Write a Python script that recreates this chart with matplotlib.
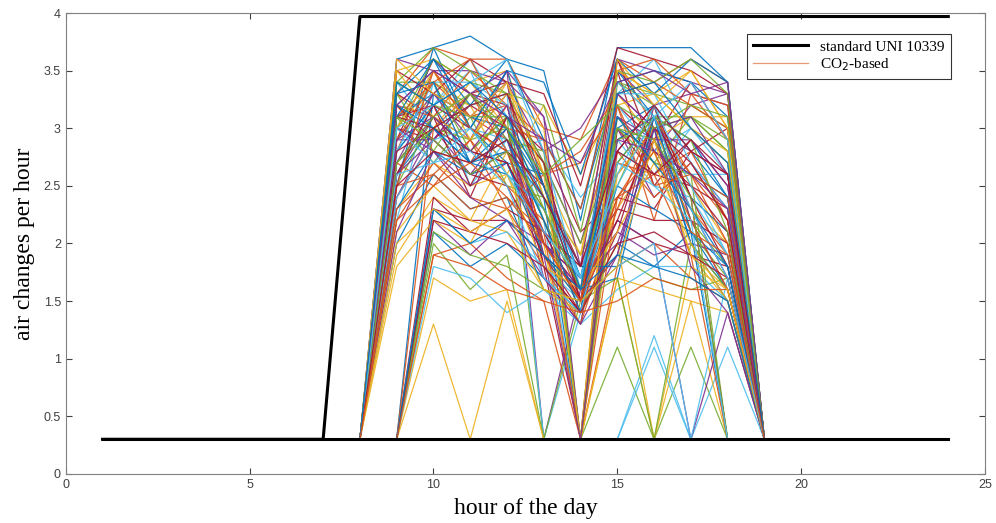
import matplotlib.pyplot as plt

# standard ventilation profile (UNI 10339), hours 1..24
std_hours = list(range(1, 25))
std_values = [0.3] * 7 + [3.97] * 17
base_values = [0.3] * 24

# CO2-based profiles, values for hours 8..19
co2_hours = list(range(8, 20))
co2_rows = [
    [0.3, 3.6, 3.7, 3.8, 3.6, 3.5, 2.2, 3.7, 3.7, 3.7, 3.4, 0.3],
    [0.3, 3.3, 3.7, 3.6, 3.6, 3.0, 2.9, 3.6, 3.4, 3.6, 3.4, 0.3],
    [0.3, 3.5, 3.6, 3.4, 3.5, 2.6, 1.9, 3.5, 3.3, 3.5, 3.0, 0.3],
    [0.3, 3.2, 3.5, 3.5, 3.4, 2.8, 3.0, 3.5, 3.2, 3.3, 3.2, 0.3],
    [0.3, 3.0, 3.4, 3.2, 3.3, 2.4, 1.6, 3.4, 3.1, 3.1, 2.8, 0.3],
    [0.3, 3.4, 3.2, 3.6, 3.1, 2.2, 1.4, 3.3, 3.6, 3.0, 2.6, 0.3],
    [0.3, 2.9, 3.6, 3.3, 3.2, 2.0, 1.7, 3.2, 2.9, 3.4, 2.9, 0.3],
    [0.3, 3.1, 3.3, 3.0, 3.5, 2.5, 1.5, 3.0, 3.2, 2.8, 2.4, 0.3],
    [0.3, 2.8, 3.5, 3.1, 2.9, 2.1, 1.8, 3.6, 3.0, 2.6, 2.2, 0.3],
    [0.3, 3.3, 3.0, 3.4, 3.0, 1.9, 1.3, 2.9, 3.1, 2.5, 2.0, 0.3],
    [0.3, 2.7, 3.1, 2.9, 3.3, 2.7, 2.0, 3.1, 2.8, 3.2, 3.3, 0.3],
    [0.3, 3.4, 3.4, 2.8, 3.1, 2.3, 1.6, 3.4, 3.2, 2.2, 1.8, 0.3],
    [0.3, 2.6, 3.2, 3.5, 2.8, 2.9, 2.4, 2.8, 2.6, 3.0, 2.7, 0.3],
    [0.3, 3.0, 2.9, 3.3, 3.4, 1.8, 1.4, 3.5, 2.5, 2.9, 2.5, 0.3],
    [0.3, 2.5, 3.7, 3.0, 2.7, 2.6, 1.7, 2.7, 3.1, 2.4, 2.1, 0.3],
    [0.3, 3.2, 2.8, 2.7, 3.2, 2.0, 1.5, 2.6, 3.0, 2.3, 1.9, 0.3],
    [0.3, 2.9, 3.3, 3.2, 2.6, 3.2, 2.6, 3.3, 2.9, 3.1, 3.1, 0.3],
    [0.3, 2.4, 3.0, 2.6, 3.0, 1.7, 1.3, 3.0, 2.4, 2.7, 2.3, 0.3],
    [0.3, 3.1, 2.7, 3.1, 2.5, 2.4, 1.9, 2.5, 3.2, 2.1, 1.7, 0.3],
    [0.3, 2.2, 3.4, 2.5, 2.9, 2.2, 1.6, 3.1, 2.7, 2.6, 2.6, 0.3],
    [0.3, 3.3, 3.1, 2.4, 3.1, 2.8, 2.1, 2.4, 2.3, 2.8, 3.0, 0.3],
    [0.3, 2.0, 2.6, 2.3, 2.4, 1.6, 1.4, 2.9, 3.1, 2.0, 1.6, 0.3],
    [0.3, 2.7, 2.5, 2.9, 2.3, 2.6, 2.7, 3.2, 2.2, 3.3, 2.9, 0.3],
    [0.3, 1.9, 2.4, 2.2, 2.8, 1.9, 1.5, 2.3, 2.8, 1.9, 1.5, 0.3],
    [0.3, 3.6, 3.5, 3.3, 3.5, 3.1, 1.8, 3.6, 3.5, 3.4, 3.3, 0.3],
    [0.3, 3.0, 3.6, 3.4, 3.3, 2.7, 0.3, 3.4, 3.3, 3.2, 3.0, 0.3],
    [0.3, 2.8, 3.2, 3.0, 2.9, 2.2, 0.3, 3.2, 2.8, 3.0, 2.7, 0.3],
    [0.3, 3.2, 2.9, 3.2, 3.0, 1.8, 0.3, 3.0, 2.6, 2.5, 2.3, 0.3],
    [0.3, 2.6, 3.0, 2.7, 2.8, 2.4, 0.3, 3.5, 3.1, 2.9, 2.4, 0.3],
    [0.3, 3.1, 3.4, 3.1, 3.2, 2.9, 0.3, 2.8, 2.4, 2.7, 2.2, 0.3],
    [0.3, 2.3, 2.7, 2.5, 2.6, 2.0, 0.3, 2.6, 3.0, 2.3, 2.0, 0.3],
    [0.3, 2.9, 3.3, 2.9, 3.5, 0.3, 1.6, 3.3, 3.0, 2.8, 2.6, 0.3],
    [0.3, 2.5, 3.1, 2.8, 3.1, 0.3, 0.3, 3.1, 2.7, 3.1, 2.8, 0.3],
    [0.3, 3.4, 3.0, 3.2, 3.3, 0.3, 1.4, 2.9, 2.5, 2.4, 1.9, 0.3],
    [0.3, 0.3, 2.3, 2.2, 2.2, 1.9, 1.6, 2.2, 2.0, 1.9, 1.8, 0.3],
    [0.3, 0.3, 2.1, 1.8, 2.0, 1.7, 1.4, 2.0, 1.8, 2.1, 1.6, 0.3],
    [0.3, 0.3, 1.9, 2.0, 1.7, 1.5, 0.3, 1.8, 2.0, 1.7, 1.5, 0.3],
    [0.3, 0.3, 1.7, 1.5, 1.6, 0.3, 0.3, 1.7, 1.6, 1.5, 1.4, 0.3],
    [0.3, 0.3, 2.2, 1.9, 2.2, 2.0, 1.7, 2.1, 1.9, 2.0, 1.9, 0.3],
    [0.3, 0.3, 2.0, 1.6, 1.9, 0.3, 1.5, 1.9, 1.7, 1.6, 1.7, 0.3],
    [0.3, 0.3, 1.8, 1.7, 1.4, 1.6, 1.3, 1.6, 1.8, 1.8, 1.5, 0.3],
    [0.3, 0.3, 2.4, 2.1, 2.3, 2.1, 1.8, 2.3, 2.2, 2.2, 2.0, 0.3],
    [0.3, 0.3, 3.3, 3.1, 3.0, 2.5, 1.7, 3.0, 2.8, 2.6, 2.4, 0.3],
    [0.3, 0.3, 3.0, 3.3, 2.8, 2.3, 1.5, 2.7, 2.6, 2.8, 2.2, 0.3],
    [0.3, 0.3, 1.3, 0.3, 1.5, 0.3, 0.3, 0.3, 0.3, 0.3, 0.3, 0.3],
    [0.3, 2.6, 3.1, 2.8, 2.7, 2.1, 1.5, 1.9, 3.2, 2.2, 1.6, 0.3],
    [0.3, 0.3, 0.3, 0.3, 0.3, 0.3, 0.3, 1.1, 0.3, 1.1, 0.3, 0.3],
    [0.3, 0.3, 0.3, 0.3, 0.3, 0.3, 0.3, 0.3, 1.2, 0.3, 1.1, 0.3],
    [0.3, 2.4, 2.9, 2.6, 2.5, 1.9, 1.4, 2.1, 3.1, 2.4, 1.8, 0.3],
    [0.3, 2.8, 3.2, 2.7, 2.6, 2.3, 1.6, 1.7, 3.0, 2.0, 1.5, 0.3],
    [0.3, 2.2, 2.7, 2.4, 2.3, 1.8, 1.3, 2.3, 3.1, 2.6, 2.0, 0.3],
    [0.3, 0.3, 0.3, 0.3, 0.3, 0.3, 0.3, 1.7, 0.3, 1.5, 0.3, 0.3],
    [0.3, 3.0, 2.8, 2.5, 2.7, 2.0, 1.7, 2.0, 2.9, 2.3, 1.7, 0.3],
    [0.3, 2.7, 3.0, 2.9, 3.0, 2.2, 1.6, 3.0, 2.7, 2.6, 0.3, 0.3],
    [0.3, 0.3, 0.3, 0.3, 0.3, 0.3, 0.3, 0.3, 1.1, 0.3, 0.3, 0.3],
    [0.3, 3.1, 3.2, 3.0, 2.8, 2.5, 1.8, 2.8, 3.2, 2.4, 0.3, 0.3],
    [0.3, 2.3, 2.8, 2.6, 2.7, 1.9, 1.5, 2.5, 2.3, 2.1, 0.3, 0.3],
    [0.3, 2.5, 2.6, 2.3, 2.4, 2.1, 0.3, 2.4, 2.6, 1.9, 0.3, 0.3],
    [0.3, 2.1, 2.5, 2.2, 2.1, 1.6, 1.4, 2.0, 0.3, 1.8, 1.6, 0.3],
    [0.3, 2.6, 2.9, 2.6, 2.8, 2.0, 1.6, 2.2, 2.0, 0.3, 1.4, 0.3],
    [0.3, 0.3, 2.1, 1.9, 1.8, 1.6, 1.5, 1.7, 0.3, 2.0, 1.6, 0.3],
    [0.3, 0.3, 2.3, 2.0, 2.1, 1.8, 1.5, 1.8, 2.0, 0.3, 1.7, 0.3],
    [0.3, 3.5, 3.3, 3.6, 3.4, 3.3, 2.5, 3.7, 3.6, 3.5, 3.3, 0.3],
    [0.3, 3.3, 3.6, 3.2, 3.6, 2.9, 2.3, 3.4, 3.5, 3.4, 3.1, 0.3],
    [0.3, 3.2, 3.1, 3.5, 3.2, 2.6, 2.8, 3.3, 3.4, 3.2, 3.0, 0.3],
    [0.3, 3.0, 3.5, 2.9, 3.4, 2.4, 1.9, 3.2, 3.3, 3.0, 2.8, 0.3],
    [0.3, 2.9, 2.9, 3.3, 2.9, 2.0, 1.6, 3.1, 2.9, 2.9, 2.5, 0.3],
    [0.3, 3.4, 3.2, 3.1, 3.1, 2.7, 2.0, 2.9, 3.0, 3.1, 2.9, 0.3],
    [0.3, 2.8, 3.4, 3.4, 3.2, 2.5, 1.7, 3.3, 3.3, 2.7, 2.3, 0.3],
    [0.3, 3.1, 3.0, 2.8, 2.7, 2.1, 1.5, 3.6, 2.8, 2.5, 2.1, 0.3],
    [0.3, 3.1, 3.6, 3.0, 3.5, 3.4, 2.6, 3.6, 3.3, 3.6, 3.4, 0.3],
    [0.3, 2.9, 3.4, 3.6, 3.0, 2.9, 2.3, 3.5, 3.6, 3.3, 3.2, 0.3],
    [0.3, 3.5, 3.1, 2.9, 3.3, 3.0, 0.3, 3.6, 3.2, 3.5, 3.0, 0.3],
    [0.3, 2.7, 3.3, 3.1, 3.4, 3.1, 0.3, 3.3, 3.0, 3.1, 2.6, 0.3],
    [0.3, 3.3, 2.8, 3.3, 2.9, 2.8, 0.3, 2.7, 3.1, 2.9, 2.1, 0.3],
    [0.3, 2.4, 2.9, 3.0, 2.6, 2.3, 1.7, 2.6, 3.2, 2.5, 1.9, 0.3],
    [0.3, 2.6, 3.2, 2.5, 3.1, 2.7, 1.5, 2.2, 3.0, 2.7, 2.2, 0.3],
    [0.3, 3.2, 3.0, 2.7, 3.0, 2.4, 1.8, 1.8, 3.1, 2.1, 1.8, 0.3],
    [0.3, 2.3, 2.6, 2.9, 2.5, 2.2, 1.4, 2.4, 2.9, 2.2, 1.6, 0.3],
    [0.3, 1.8, 2.2, 2.0, 2.6, 1.8, 1.6, 2.1, 2.7, 2.0, 1.5, 0.3],
    [0.3, 2.1, 2.8, 2.4, 2.2, 1.7, 1.3, 1.9, 3.0, 1.8, 1.4, 0.3],
    [0.3, 3.4, 3.7, 3.5, 3.3, 3.2, 2.1, 3.5, 3.4, 3.6, 3.3, 0.3],
    [0.3, 3.0, 3.2, 3.4, 3.6, 2.8, 1.6, 3.4, 3.1, 3.4, 2.9, 0.3],
    [0.3, 2.8, 3.0, 3.2, 3.3, 2.5, 1.5, 2.8, 3.2, 2.8, 2.6, 0.3],
    [0.3, 3.3, 3.4, 2.7, 2.9, 2.2, 1.4, 3.1, 2.7, 2.3, 1.8, 0.3],
    [0.3, 2.5, 3.5, 3.0, 2.8, 2.0, 1.5, 3.2, 2.5, 2.6, 2.4, 0.3],
    [0.3, 3.6, 3.3, 3.1, 3.4, 2.6, 0.3, 3.5, 3.3, 3.0, 2.7, 0.3],
    [0.3, 2.9, 3.1, 2.8, 3.2, 1.9, 0.3, 2.9, 2.8, 2.6, 2.3, 0.3],
    [0.3, 3.1, 2.9, 2.6, 2.8, 2.3, 1.6, 3.0, 2.9, 2.4, 0.3, 0.3],
    [0.3, 2.6, 2.7, 2.8, 2.5, 1.7, 1.4, 2.7, 2.5, 2.2, 0.3, 0.3],
    [0.3, 0.3, 2.2, 2.1, 2.0, 1.8, 1.4, 2.0, 2.1, 1.9, 1.7, 0.3],
    [0.3, 0.3, 2.3, 2.0, 2.2, 1.9, 1.6, 1.9, 1.8, 1.7, 1.5, 0.3],
    [0.3, 0.3, 1.9, 1.8, 1.6, 1.5, 1.4, 1.5, 1.7, 1.6, 1.6, 0.3],
    [0.3, 2.0, 2.3, 2.1, 2.3, 1.6, 1.5, 1.8, 2.9, 1.9, 1.6, 0.3],
    [0.3, 3.2, 3.5, 3.3, 3.1, 2.9, 2.7, 3.4, 3.5, 3.3, 3.4, 0.3],
    [0.3, 2.7, 3.1, 3.3, 3.0, 2.6, 2.9, 3.2, 3.0, 3.2, 3.1, 0.3],
    [0.3, 3.0, 2.7, 3.0, 2.6, 2.1, 1.7, 2.5, 3.1, 2.3, 1.7, 0.3],
    [0.3, 2.5, 2.8, 2.7, 2.9, 2.4, 1.8, 2.8, 2.6, 2.9, 2.6, 0.3],
    [0.3, 3.4, 3.2, 3.4, 3.1, 2.5, 1.6, 3.3, 3.4, 3.0, 2.7, 0.3],
    [0.3, 2.2, 2.5, 2.7, 2.4, 2.0, 1.5, 2.4, 2.8, 2.1, 1.9, 0.3],
]

# MATLAB default line colours
matlab_colors = ['#0072BD', '#D95319', '#EDB120', '#7E2F8E',
                 '#77AC30', '#4DBEEE', '#A2142F']

plt.rcParams['font.family'] = ['Liberation Serif', 'DejaVu Serif']

fig = plt.figure(figsize=(9.96, 5.23), dpi=100)
ax = fig.add_axes([0.066, 0.094, 0.923, 0.881])

for i, row in enumerate(co2_rows):
    ax.plot(co2_hours, row, color=matlab_colors[i % 7], lw=0.9, alpha=0.9,
            zorder=2)

ax.plot(std_hours, std_values, color='black', lw=2.2, zorder=4,
        label='standard UNI 10339')
ax.plot(std_hours, base_values, color='black', lw=2.2, zorder=4)
# proxy for the legend entry of the CO2 lines
ax.plot([], [], color='#D95319', lw=0.9, alpha=0.6, label='CO$_2$-based')

ax.set_xlim(0, 25)
ax.set_ylim(0, 4)
ax.set_xticks([0, 5, 10, 15, 20, 25])
ax.set_yticks([0, 0.5, 1, 1.5, 2, 2.5, 3, 3.5, 4])
ax.set_yticklabels(['0', '0.5', '1', '1.5', '2', '2.5', '3', '3.5', '4'])
ax.tick_params(direction='in', top=True, right=True, length=4,
               labelsize=9, colors='#404040', labelcolor='#404040')
for lbl in ax.get_xticklabels() + ax.get_yticklabels():
    lbl.set_fontfamily('Liberation Sans')
for sp in ax.spines.values():
    sp.set_color('#808080')
    sp.set_linewidth(0.8)

ax.set_xlabel('hour of the day', fontsize=17, labelpad=5)
ax.set_ylabel('air changes per hour', fontsize=17, labelpad=6)

leg = ax.legend(loc='upper right', bbox_to_anchor=(0.963, 0.955), fontsize=11,
                frameon=True, fancybox=False, borderpad=0.4,
                handlelength=3.6, labelspacing=0.15, borderaxespad=0)
leg.get_frame().set_edgecolor('black')
leg.get_frame().set_linewidth(0.8)

fig.savefig('out.png', dpi=100)
